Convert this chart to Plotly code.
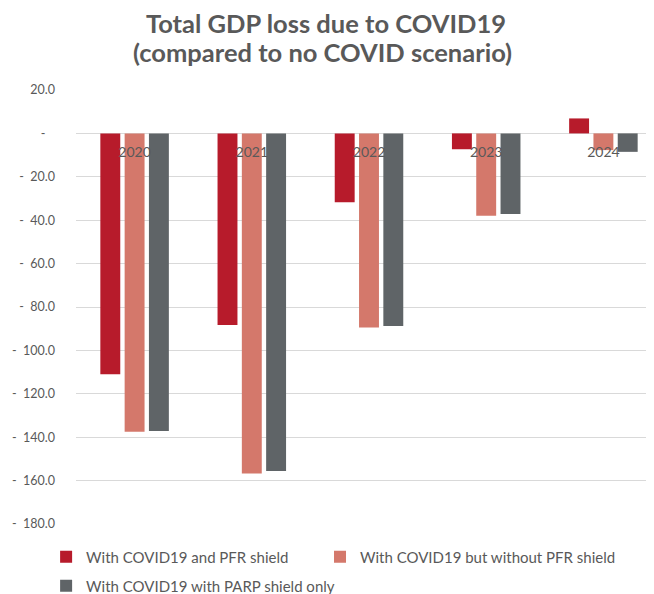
import plotly.graph_objects as go

years = ["2020", "2021", "2022", "2023", "2024"]
with_pfr = [-111.0, -88.3, -31.7, -7.3, 6.9]
without_pfr = [-137.5, -156.7, -89.5, -38.0, -7.7]
parp_only = [-137.2, -155.6, -88.7, -37.2, -8.5]

series_names = [
    "With COVID19 and PFR shield",
    "With COVID19 but without PFR shield",
    "With COVID19 with PARP shield only",
]
colors = ["#B71B2B", "#D4786B", "#5F6467"]
legends = ["legend", "legend3", "legend2"]

title_lines = ["Total GDP loss due to COVID19", "(compared to no COVID scenario)"]

y_tickvals = [20, 0, -20, -40, -60, -80, -100, -120, -140, -160, -180]
y_ticktext = ["20.0", "-\u00a0\u00a0\u00a0", "-\u00a0\u00a020.0", "-\u00a0\u00a040.0",
              "-\u00a0\u00a060.0", "-\u00a0\u00a080.0", "-\u00a0\u00a0100.0",
              "-\u00a0\u00a0120.0", "-\u00a0\u00a0140.0", "-\u00a0\u00a0160.0",
              "-\u00a0\u00a0180.0"]

fig = go.Figure()
for name, vals, col, lg in zip(series_names, [with_pfr, without_pfr, parp_only], colors, legends):
    fig.add_trace(go.Bar(x=years, y=vals, name=name, legend=lg,
                         marker=dict(color=col, line=dict(width=0))))

legend_common = dict(orientation="h", xanchor="left", yanchor="middle",
                     font=dict(size=15, color="#595959"),
                     traceorder="normal", bgcolor="rgba(0,0,0,0)")

title_font = dict(size=25.5, color="#595959", family="Lato", weight="bold")

fig.update_layout(
    width=654, height=594,
    margin=dict(l=68, r=0, t=82, b=78, autoexpand=False),
    paper_bgcolor="white", plot_bgcolor="white",
    barmode="group", bargap=0.378, bargroupgap=0.18,
    font=dict(family="Lato", color="#595959"),
    xaxis=dict(
        type="category", range=[-0.5, 4.5],
        anchor="free", position=0.9,
        showgrid=False, showline=False, zeroline=False, ticks="",
        tickfont=dict(size=14, color="#595959"), ticklabelstandoff=9,
    ),
    yaxis=dict(
        range=[-180, 20], tickvals=y_tickvals, ticktext=y_ticktext,
        showgrid=True, gridcolor="#D9D9D9", gridwidth=1,
        zeroline=False, showline=False, ticks="",
        tickfont=dict(size=12.5, color="#595959"), ticklabelstandoff=20,
    ),
    legend=dict(x=-0.051, y=-0.076, **legend_common),
    legend3=dict(x=0.4164, y=-0.076, **legend_common),
    legend2=dict(x=-0.051, y=-0.143, **legend_common),
    showlegend=True,
    annotations=[
        dict(text=title_lines[0], xref="paper", yref="paper", x=0.4266, y=1.154,
             xanchor="center", yanchor="middle", showarrow=False, font=title_font),
        dict(text=title_lines[1], xref="paper", yref="paper", x=0.4198, y=1.087,
             xanchor="center", yanchor="middle", showarrow=False, font=title_font),
    ],
)

fig.write_html("out.html")
